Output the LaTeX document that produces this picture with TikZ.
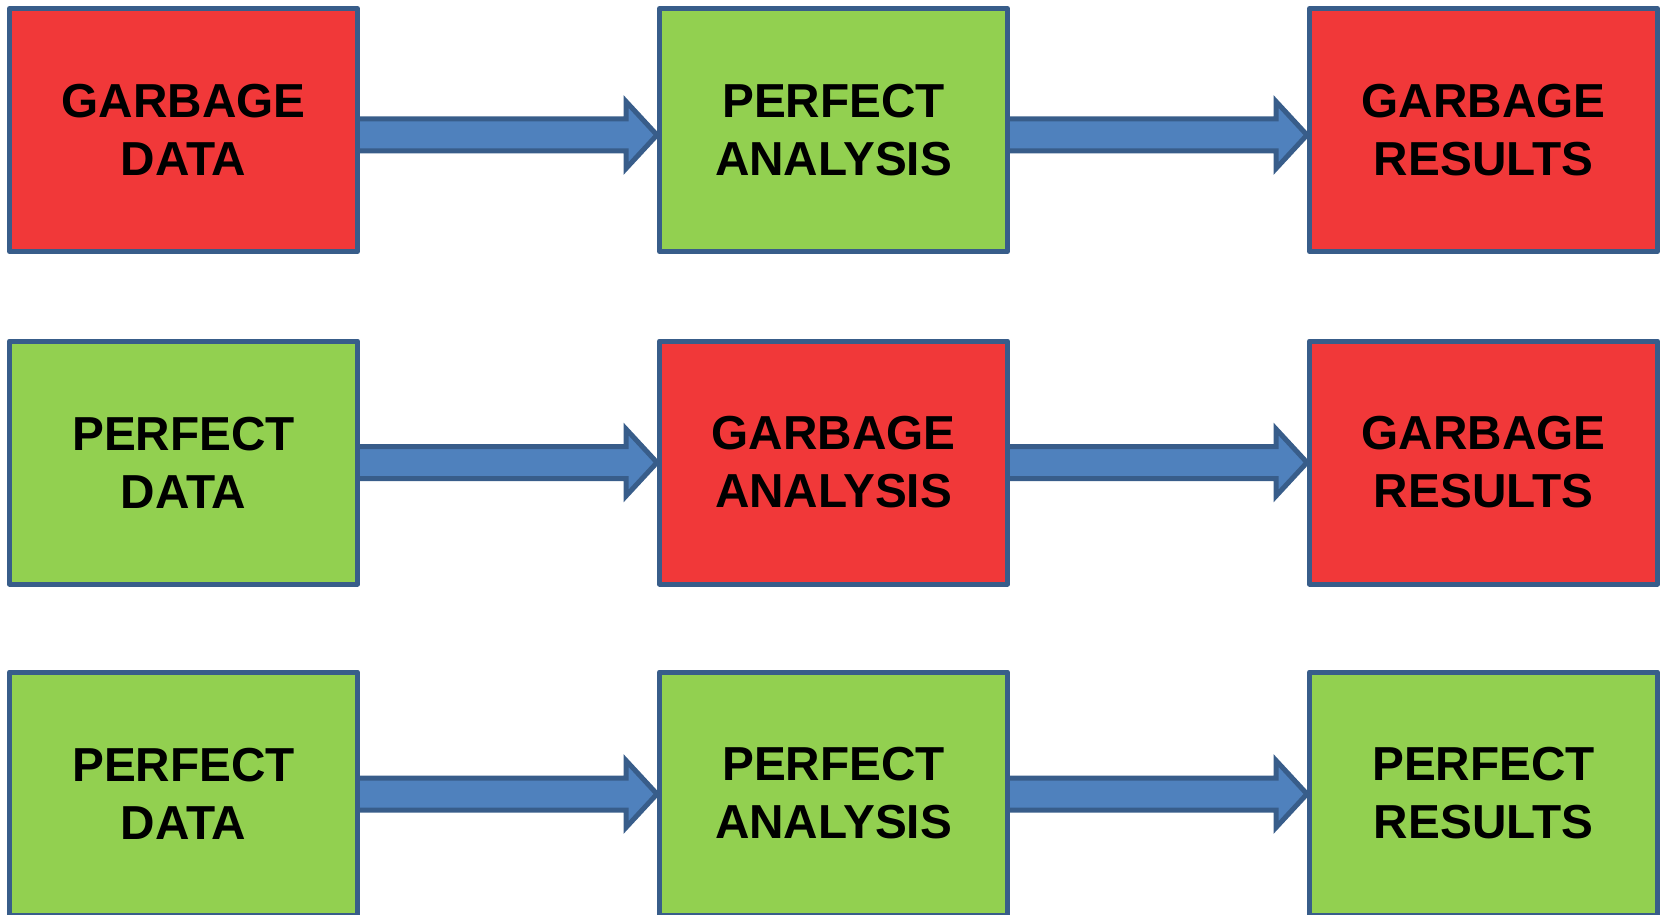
\documentclass[tikz,border=0pt]{standalone}
\usepackage{fontspec}
\setmainfont{Liberation Sans}
\usetikzlibrary{calc}
\definecolor{gred}{RGB}{241,56,57}
\definecolor{pgreen}{HTML}{92D050}
\definecolor{edge}{HTML}{385D8A}
\definecolor{arrfill}{HTML}{4F81BD}
\tikzset{
  box/.style={draw=edge, line width=5pt, line join=round, minimum width=348pt, minimum height=243pt, inner sep=0pt, align=center, font=\fontsize{47.7}{58}\selectfont\bfseries},
  bad/.style={box, fill=gred},
  good/.style={box, fill=pgreen},
  arr/.style={draw=edge, fill=arrfill, line width=5pt, line join=miter}
}
\newcommand\flowarrow[3]{%
  \draw[arr] let \p1=($(#1.east)+(0,#3)$), \p2=($(#2.west)+(0,#3)$) in
    (\x1-3pt,\y1+16pt) -- (\x2-31pt,\y1+16pt) -- (\x2-31pt,\y1+33.5pt) -- (\x2,\y1)
    -- (\x2-31pt,\y1-33.5pt) -- (\x2-31pt,\y1-16pt) -- (\x1-3pt,\y1-16pt) -- cycle;}
\begin{document}
\begin{tikzpicture}[x=1pt,y=-1pt]
\useasboundingbox (0,0) rectangle (1665,915);
% positions
\coordinate (c11) at (183.5,129);
\coordinate (c12) at (833.5,129);
\coordinate (c13) at (1483.5,129);
\coordinate (c21) at (183.5,461.5);
\coordinate (c22) at (833.5,461.5);
\coordinate (c23) at (1483.5,461.5);
\coordinate (c31) at (183.5,792.5);
\coordinate (c32) at (833.5,792.5);
\coordinate (c33) at (1483.5,792.5);
% invisible anchors for arrows (boxes drawn later on top)
\path (c11) node[box,draw=none,text opacity=0] (a11) {};
\path (c12) node[box,draw=none,text opacity=0] (a12) {};
\path (c13) node[box,draw=none,text opacity=0] (a13) {};
\path (c21) node[box,draw=none,text opacity=0] (a21) {};
\path (c22) node[box,draw=none,text opacity=0] (a22) {};
\path (c23) node[box,draw=none,text opacity=0] (a23) {};
\path (c31) node[box,draw=none,text opacity=0] (a31) {};
\path (c32) node[box,draw=none,text opacity=0] (a32) {};
\path (c33) node[box,draw=none,text opacity=0] (a33) {};
\flowarrow{a11}{a12}{6}
\flowarrow{a12}{a13}{6}
\flowarrow{a21}{a22}{1}
\flowarrow{a22}{a23}{1}
\flowarrow{a31}{a32}{1.5}
\flowarrow{a32}{a33}{1.5}
% boxes
\node[bad]  (b11) at ([yshift=-1pt]c11) {GARBAGE\\DATA};
\node[good] (b12) at ([yshift=-1pt]c12) {PERFECT\\ANALYSIS};
\node[bad]  (b13) at ([yshift=-1pt]c13) {GARBAGE\\RESULTS};
\node[good] (b21) at ([yshift=-1pt]c21) {PERFECT\\DATA};
\node[bad]  (b22) at ([yshift=-1pt]c22) {GARBAGE\\ANALYSIS};
\node[bad]  (b23) at ([yshift=-1pt]c23) {GARBAGE\\RESULTS};
\node[good] (b31) at ([yshift=-1pt]c31) {PERFECT\\DATA};
\node[good] (b32) at ([yshift=-1pt]c32) {PERFECT\\ANALYSIS};
\node[good] (b33) at ([yshift=-1pt]c33) {PERFECT\\RESULTS};
\end{tikzpicture}
\end{document}
